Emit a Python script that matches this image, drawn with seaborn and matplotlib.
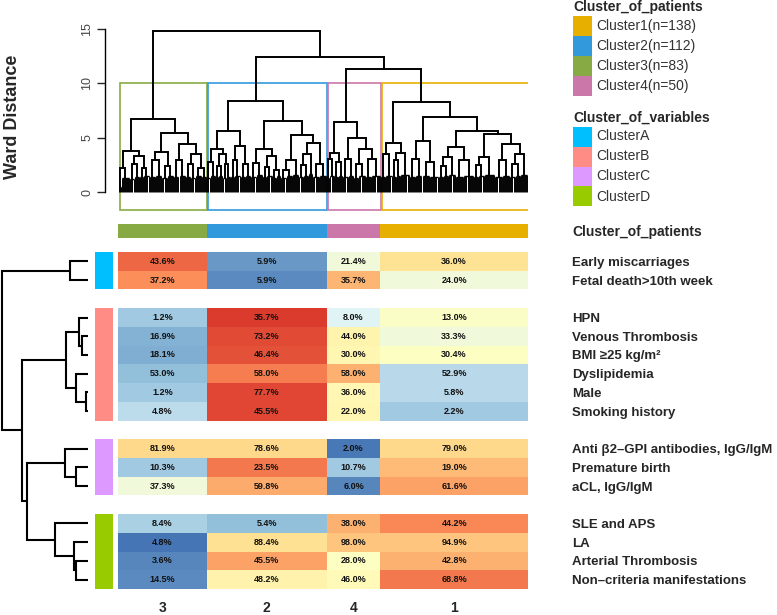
import numpy as np
import matplotlib
matplotlib.use("Agg")
import matplotlib.pyplot as plt
from matplotlib.colors import LinearSegmentedColormap
from matplotlib.patches import Rectangle
import seaborn as sns

# ---- data ----
col_order = ["3", "2", "4", "1"]          # patient clusters, left to right
col_sizes = [83, 112, 50, 138]
patient_colors = {"1": "#E7B000", "2": "#3399DD", "3": "#88AA44", "4": "#CC77AA"}
patient_legend = ["Cluster1(n=138)", "Cluster2(n=112)", "Cluster3(n=83)", "Cluster4(n=50)"]

variables = ["Early miscarriages", "Fetal death>10th week",
             "HPN", "Venous Thrombosis", "BMI \u226525 kg/m\u00b2", "Dyslipidemia", "Male", "Smoking history",
             "Anti \u03b22\u2013GPI antibodies, IgG/IgM", "Premature birth", "aCL, IgG/IgM",
             "SLE and APS", "LA", "Arterial Thrombosis", "Non\u2013criteria manifestations"]
var_group = ["A", "A", "B", "B", "B", "B", "B", "B", "C", "C", "C", "D", "D", "D", "D"]
group_colors = {"A": "#00BFFF", "B": "#FF8C85", "C": "#DD99FF", "D": "#99CC00"}

# percentages per patient cluster (columns 3, 2, 4, 1)
pct = [
    [43.6, 5.9, 21.4, 36.0],
    [37.2, 5.9, 35.7, 24.0],
    [1.2, 35.7, 8.0, 13.0],
    [16.9, 73.2, 44.0, 33.3],
    [18.1, 46.4, 30.0, 30.4],
    [53.0, 58.0, 58.0, 52.9],
    [1.2, 77.7, 36.0, 5.8],
    [4.8, 45.5, 22.0, 2.2],
    [81.9, 78.6, 2.0, 79.0],
    [10.3, 23.5, 10.7, 19.0],
    [37.3, 59.8, 6.0, 61.6],
    [8.4, 5.4, 38.0, 44.2],
    [4.8, 88.4, 98.0, 94.9],
    [3.6, 45.5, 28.0, 42.8],
    [14.5, 48.2, 46.0, 68.8],
]
# colour level of each cell (0 = blue, 1 = red)
level = [
    [0.90, 0.08, 0.42, 0.65],
    [0.83, 0.05, 0.75, 0.42],
    [0.20, 0.98, 0.34, 0.48],
    [0.14, 0.95, 0.56, 0.42],
    [0.13, 0.94, 0.55, 0.49],
    [0.17, 0.86, 0.76, 0.25],
    [0.20, 0.96, 0.54, 0.25],
    [0.26, 0.96, 0.55, 0.20],
    [0.68, 0.68, 0.01, 0.68],
    [0.20, 0.87, 0.20, 0.74],
    [0.42, 0.77, 0.04, 0.79],
    [0.22, 0.17, 0.76, 0.84],
    [0.00, 0.66, 0.72, 0.72],
    [0.04, 0.79, 0.49, 0.76],
    [0.05, 0.57, 0.53, 0.87],
]

# variable dendrogram: [height, left, right], leaves are row indices
row_tree = [86, [18, 0, 1],
            [66, [22, [9, 2, [6, 3, 4]], [12, 5, [2, 6, 7]]],
             [61, [23, 8, [12, 9, 10]],
              [33, 11, [14, 12, [12, 13, 14]]]]]]

# patient dendrogram: [height, left, right], leaf bundles are (n_patients, height)
tree_c3 = [6.7,
           [3.8, [2.2, (3, 0.5), (8, 1.3)],
            [3.3, [2.6, (4, 1.2), (5, 1.4)], [2.2, (4, 1.4), (5, 1.5)]]],
           [5.4, [3.7, [2.9, (6, 1.4), (6, 1.5)], [2.4, (5, 1.3), (6, 1.5)]],
            [4.4, [2.9, (5, 1.4), (6, 1.5)],
             [3.5, [2.6, (5, 1.4), (4, 1.3)], [2.2, (6, 1.5), (5, 1.4)]]]]]
tree_c2 = [8.4,
           [5.6,
            [3.95, [2.8, (3, 1.3), (5, 1.5)],
             [3.5, [2.4, (3, 1.4), (4, 1.5)], [2.6, (3, 1.3), (4, 1.4)]]],
            [4.25, [2.9, (4, 1.4), (5, 1.5)], [2.6, (5, 1.4), (5, 1.5)]]],
           [6.5,
            [3.95, [2.7, (5, 1.4), (6, 1.6)],
             [3.3, [2.3, (4, 1.4), (5, 1.5)], [2.0, (4, 1.3), (4, 1.5)]]],
            [5.25, [2.95, [2.0, (5, 1.3), (6, 1.5)], (6, 1.6)],
             [4.55, [3.5, [2.5, (4, 1.4), (5, 1.5)], (4, 1.7)],
              [2.6, (6, 1.4), (7, 1.5)]]]]]
tree_c4 = [6.4,
           [3.6, [3.0, (3, 1.3), (4, 1.5)], [2.8, (4, 1.4), (4, 1.5)]],
           [5.0, [3.0, (5, 1.4), (5, 1.5)],
            [3.95, [2.6, (5, 1.3), (6, 1.5)], [3.0, (6, 1.4), (8, 1.5)]]]]
tree_c1 = [8.25,
           [4.5, [3.5, (5, 1.4), (6, 1.5)], [3.6, [2.9, (4, 1.4), (4, 1.5)], (8, 1.6)]],
           [6.9,
            [4.65, [3.0, (6, 1.4), (6, 1.5)], [2.75, (7, 1.5), (8, 1.4)]],
            [5.6,
             [4.1, [3.2, [2.4, (5, 1.4), (5, 1.5)], (6, 1.6)], [2.9, (8, 1.4), (9, 1.5)]],
             [5.3,
              [3.2, [2.5, (5, 1.4), (5, 1.5)], (10, 1.6)],
              [4.45, [2.9, (7, 1.4), (7, 1.5)],
               [3.5, [2.6, (5, 1.4), (5, 1.5)], (7, 1.6)]]]]]]
patient_tree = [14.85, tree_c3, [12.4, tree_c2, [11.3, tree_c4, tree_c1]]]
box_top = 10.0
box_bottom = -1.65

# ---- layout ----
W, H = 777, 615
sns.set_style("white")
plt.rcParams["font.family"] = ["Liberation Sans", "DejaVu Sans"]
fig = plt.figure(figsize=(W / 100, H / 100), dpi=100)


def px_axes(x0, y0, x1, y1):
    return fig.add_axes([x0 / W, 1 - y1 / H, (x1 - x0) / W, (y1 - y0) / H])


n_total = sum(col_sizes)
edges = np.concatenate([[0], np.cumsum(col_sizes)])
centers = (edges[:-1] + edges[1:]) / 2

# slots: variable rows with one blank slot between variable clusters
row_slot = []
slot = 0
for i, g in enumerate(var_group):
    if i > 0 and g != var_group[i - 1]:
        slot += 1
    row_slot.append(slot)
    slot += 1
n_slots = slot

mat = np.full((n_slots, n_total), np.nan)
for i, s in enumerate(row_slot):
    mat[s] = np.repeat(level[i], col_sizes)

cmap = LinearSegmentedColormap.from_list(
    "rdylbu7", ["#4575b4", "#91bfdb", "#e0f3f8", "#ffffbf", "#fee090", "#fc8d59", "#d73027"])

ax_hm = px_axes(118, 252, 528, 589)
sns.heatmap(mat, ax=ax_hm, cmap=cmap, vmin=0, vmax=1, cbar=False,
            xticklabels=False, yticklabels=False)
for i, s in enumerate(row_slot):
    for j in range(len(col_order)):
        ax_hm.text(centers[j], s + 0.5, f"{pct[i][j]:.1f}%", ha="center", va="center",
                   fontsize=6.5, fontweight="bold", color="#111111")
ax_hm.set_xticks(centers, col_order)
ax_hm.set_yticks(np.array(row_slot) + 0.5, variables)
ax_hm.tick_params(axis="x", length=0, pad=9, labelsize=10)
ax_hm.tick_params(axis="y", length=0, left=False, labelleft=False, labelright=True,
                  pad=31.5, labelsize=9.5)
for t in ax_hm.get_xticklabels() + ax_hm.get_yticklabels():
    t.set_fontweight("bold")
    t.set_rotation(0)

# variable cluster bar
ax_vb = px_axes(95, 252, 113, 589)
for g in group_colors:
    idx = [row_slot[i] for i, v in enumerate(var_group) if v == g]
    ax_vb.bar(0, max(idx) + 1 - min(idx), bottom=min(idx), width=1, align="edge",
              color=group_colors[g], linewidth=0)
ax_vb.set_xlim(0, 1)
ax_vb.set_ylim(n_slots, 0)
ax_vb.axis("off")

# variable dendrogram
ax_rd = px_axes(0, 252, 88, 589)


def draw_row_tree(node):
    if isinstance(node, int):
        return row_slot[node] + 0.5, 0
    h, a, b = node
    ya, ha = draw_row_tree(a)
    yb, hb = draw_row_tree(b)
    ax_rd.plot([ha, h, h, hb], [ya, ya, yb, yb], color="black", lw=1.5,
               solid_joinstyle="miter")
    return (ya + yb) / 2, h


draw_row_tree(row_tree)
ax_rd.set_xlim(88, 0)
ax_rd.set_ylim(n_slots, 0)
ax_rd.axis("off")

# patient cluster bar
ax_pb = px_axes(118, 224, 528, 238)
ax_pb.bar(edges[:-1], 1, width=col_sizes, align="edge",
          color=[patient_colors[c] for c in col_order], linewidth=0)
ax_pb.set_xlim(0, n_total)
ax_pb.set_ylim(0, 1)
ax_pb.axis("off")

# patient dendrogram
ax_td = px_axes(118, 192 - 15.5 * 10.87, 528, 192 + 2 * 10.87)


def draw_tree(node, start):
    if isinstance(node, tuple):
        n, h = node
        xs = start + np.arange(n) + 0.5
        ax_td.vlines(xs, 0, h, color="black", lw=0.7)
        if n > 1:
            ax_td.hlines(h, xs[0], xs[-1], color="black", lw=1.0)
        return xs.mean(), h, n
    h, a, b = node
    ca, ha, na = draw_tree(a, start)
    cb, hb, nb = draw_tree(b, start + na)
    ax_td.plot([ca, ca, cb, cb], [ha, h, h, hb], color="black", lw=1.4,
               solid_joinstyle="miter")
    return (ca + cb) / 2, h, na + nb


draw_tree(patient_tree, 0)
for j, c in enumerate(col_order):
    ax_td.add_patch(Rectangle((edges[j] + 1.5, box_bottom), col_sizes[j] - 1, box_top - box_bottom,
                              fill=False, edgecolor=patient_colors[c], lw=1.2))
ax_td.set_xlim(0, n_total)
ax_td.set_ylim(-2, 15.5)
for s in ["top", "right", "bottom"]:
    ax_td.spines[s].set_visible(False)
ax_td.spines["left"].set_position(("outward", 9.4))
ax_td.spines["left"].set_bounds(0, 15)
ax_td.spines["left"].set_linewidth(1.0)
ax_td.spines["left"].set_color("black")
ax_td.set_xticks([])
ax_td.set_yticks([0, 5, 10, 15])
ax_td.tick_params(axis="y", left=True, length=5.5, width=1.0, pad=3, labelsize=9,
                  labelcolor="#444444", labelrotation=90)
for t in ax_td.get_yticklabels():
    t.set_va("center")
fig.text(12.5 / W, 1 - 117 / H, "Ward Distance", rotation=90, ha="center", va="center",
         fontsize=13, fontweight="bold")

# legends
fig.text(572 / W, 1 - 232 / H, "Cluster_of_patients", ha="left", va="center",
         fontsize=10, fontweight="bold")


def legend_block(y_title, title, labels, colors):
    fig.text(573 / W, 1 - y_title / H, title, ha="left", va="center",
             fontsize=10, fontweight="bold")
    for k, (lab, col) in enumerate(zip(labels, colors)):
        y0 = y_title + 9 + 20 * k
        fig.patches.append(Rectangle((572.5 / W, 1 - (y0 + 20) / H), 19.5 / W, 20 / H,
                                     transform=fig.transFigure, facecolor=col, edgecolor="none"))
        fig.text(596 / W, 1 - (y0 + 10) / H, lab, ha="left", va="center",
                 fontsize=10, color="#333333")


legend_block(7, "Cluster_of_patients", patient_legend,
             [patient_colors[k] for k in ["1", "2", "3", "4"]])
legend_block(117.5, "Cluster_of_variables", ["Cluster" + g for g in group_colors],
             list(group_colors.values()))

fig.savefig("out.png", dpi=100)
